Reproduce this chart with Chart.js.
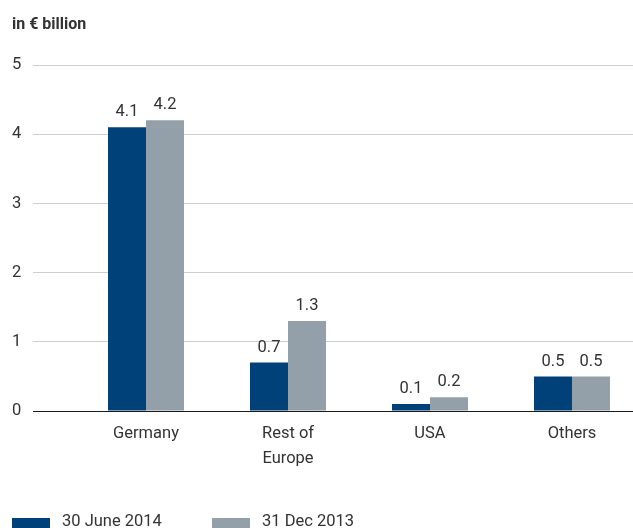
<!DOCTYPE html>
<html>
<head>
<meta charset="utf-8">
<script src="https://cdn.jsdelivr.net/npm/chart.js@4"></script>
<style>
  html, body { margin: 0; padding: 0; background: #fff; overflow: hidden; }
  #wrap { width: 643px; height: 528px; }
</style>
</head>
<body>
<div id="wrap"><canvas id="c" width="643" height="528"></canvas></div>
<script>
// Regions and values (in € billion)
const categories = ['Germany', ['Rest of', 'Europe'], 'USA', 'Others'];
const june2014 = [4.1, 0.7, 0.1, 0.5];
const dec2013 = [4.2, 1.3, 0.2, 0.5];
const seriesNames = ['30 June 2014', '31 Dec 2013'];
const yTicks = [0, 1, 2, 3, 4, 5];

const NAVY = '#00417a';
const GREY = '#939fa9';
const GRID = '#c9cfd5';
const TEXT = '#333333';
const FONT = 'Roboto, "Liberation Sans", sans-serif';
const SIZE = 16.5;

// Value labels above each bar
const valueLabels = {
  id: 'valueLabels',
  afterDatasetsDraw(chart) {
    const ctx = chart.ctx;
    ctx.save();
    ctx.font = SIZE + 'px ' + FONT;
    ctx.fillStyle = TEXT;
    ctx.textAlign = 'center';
    ctx.textBaseline = 'middle';
    chart.data.datasets.forEach((ds, di) => {
      const meta = chart.getDatasetMeta(di);
      meta.data.forEach((bar, i) => {
        ctx.fillText(ds.data[i].toFixed(1), bar.x, bar.y - 15);
      });
    });
    ctx.restore();
  }
};

// Legend row along the bottom edge
const bottomLegend = {
  id: 'bottomLegend',
  afterDraw(chart) {
    const ctx = chart.ctx;
    ctx.save();
    ctx.font = SIZE + 'px ' + FONT;
    ctx.textBaseline = 'middle';
    ctx.textAlign = 'left';
    const starts = [12, 212];
    chart.data.datasets.forEach((ds, i) => {
      const x = starts[i];
      ctx.fillStyle = ds.backgroundColor;
      ctx.fillRect(x, 518, 38, 10);
      ctx.fillStyle = TEXT;
      ctx.fillText(ds.label, x + 50, 522);
    });
    ctx.restore();
  }
};

new Chart(document.getElementById('c'), {
  type: 'bar',
  data: {
    labels: categories,
    datasets: [
      { label: seriesNames[0], data: june2014, backgroundColor: NAVY },
      { label: seriesNames[1], data: dec2013, backgroundColor: GREY }
    ]
  },
  options: {
    responsive: false,
    animation: false,
    layout: { padding: { left: 12, right: 0, top: 15, bottom: 46 } },
    datasets: { bar: { barPercentage: 1, categoryPercentage: 76 / 142 } },
    plugins: {
      legend: { display: false },
      tooltip: { enabled: false },
      title: {
        display: true,
        text: 'in € billion',
        align: 'start',
        color: TEXT,
        font: { family: FONT, size: 16, weight: 'bold', lineHeight: 1.2 },
        padding: { top: 0, bottom: 30.8 }
      }
    },
    scales: {
      x: {
        grid: { display: false, drawTicks: false },
        border: { display: false },
        ticks: {
          color: TEXT,
          padding: 10.5,
          font: { family: FONT, size: SIZE, lineHeight: 25 / SIZE }
        }
      },
      y: {
        min: 0,
        max: 5,
        afterFit(scale) { scale.width = 63; },
        afterBuildTicks(scale) { scale.ticks = yTicks.map(v => ({ value: v })); },
        border: { display: false },
        grid: {
          color: c => c.tick && c.tick.value === 0 ? '#1a1a1a' : GRID,
          tickColor: c => c.tick && c.tick.value === 0 ? '#1a1a1a' : GRID,
          tickLength: 42,
          lineWidth: 1
        },
        ticks: {
          color: TEXT,
          crossAlign: 'far',
          padding: 10,
          font: { family: FONT, size: SIZE }
        }
      }
    }
  },
  plugins: [valueLabels, bottomLegend]
});
</script>
</body>
</html>
